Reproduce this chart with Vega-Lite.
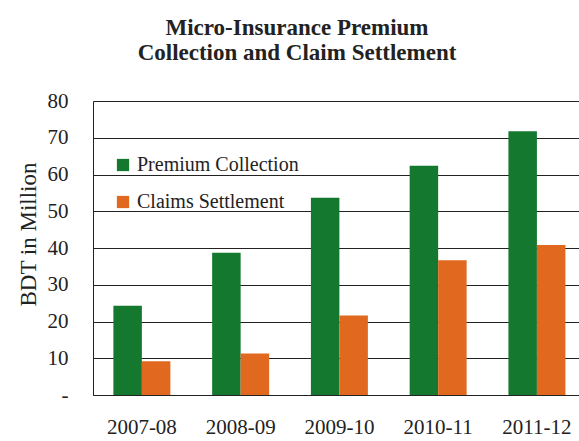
{
  "$schema": "https://vega.github.io/schema/vega-lite/v6.json",
  "width": 486,
  "height": 294,
  "autosize": {"type": "none"},
  "padding": {"left": 93, "top": 101, "right": 0, "bottom": 46},
  "background": "white",
  "title": {
    "text": ["Micro-Insurance Premium", "Collection and Claim Settlement"],
    "font": "Liberation Serif",
    "fontSize": 23,
    "fontWeight": "bold",
    "color": "#222222",
    "anchor": "middle",
    "dx": -39,
    "offset": 25,
    "lineHeight": 25
  },
  "data": {
    "values": [
      {"year": "2007-08", "series": "Premium Collection", "value": 24.3},
      {"year": "2007-08", "series": "Claims Settlement", "value": 9.2},
      {"year": "2008-09", "series": "Premium Collection", "value": 38.7},
      {"year": "2008-09", "series": "Claims Settlement", "value": 11.3},
      {"year": "2009-10", "series": "Premium Collection", "value": 53.7},
      {"year": "2009-10", "series": "Claims Settlement", "value": 21.6},
      {"year": "2010-11", "series": "Premium Collection", "value": 62.4},
      {"year": "2010-11", "series": "Claims Settlement", "value": 36.7},
      {"year": "2011-12", "series": "Premium Collection", "value": 71.8},
      {"year": "2011-12", "series": "Claims Settlement", "value": 40.8}
    ]
  },
  "mark": {"type": "bar"},
  "encoding": {
    "x": {
      "field": "year",
      "type": "nominal",
      "scale": {"paddingInner": 0.423, "paddingOuter": 0.172, "align": 0.6},
      "axis": {
        "title": null,
        "labelAngle": 0,
        "labelFont": "Liberation Serif",
        "labelFontSize": 21,
        "labelColor": "#222222",
        "labelPadding": 21,
        "ticks": false,
        "domainColor": "#222222",
        "domainWidth": 1
      }
    },
    "xOffset": {
      "field": "series",
      "type": "nominal",
      "sort": ["Premium Collection", "Claims Settlement"],
      "scale": {"paddingInner": 0, "paddingOuter": 0}
    },
    "y": {
      "field": "value",
      "type": "quantitative",
      "scale": {"domain": [0, 80], "nice": false},
      "axis": {
        "title": "BDT in Million",
        "titleFont": "Liberation Serif",
        "titleFontSize": 23,
        "titleFontWeight": "normal",
        "titleColor": "#222222",
        "titleX": -65,
        "titleY": 133,
        "titleAngle": -90,
        "titleAlign": "center",
        "titleBaseline": "middle",
        "values": [0, 10, 20, 30, 40, 50, 60, 70, 80],
        "labelExpr": "datum.value == 0 ? '-' : datum.label",
        "labelFont": "Liberation Serif",
        "labelFontSize": 21,
        "labelColor": "#222222",
        "labelPadding": 25,
        "ticks": false,
        "grid": true,
        "gridColor": "#222222",
        "gridWidth": 1,
        "domainColor": "#222222",
        "domainWidth": 1
      }
    },
    "color": {
      "field": "series",
      "type": "nominal",
      "sort": ["Premium Collection", "Claims Settlement"],
      "scale": {"domain": ["Premium Collection", "Claims Settlement"], "range": ["#15782f", "#e0691f"]},
      "legend": {
        "title": null,
        "orient": "none",
        "legendX": 20,
        "legendY": 54,
        "symbolType": "square",
        "symbolSize": 150,
        "symbolStrokeWidth": 0,
        "labelFont": "Liberation Serif",
        "labelFontSize": 20,
        "labelColor": "#222222",
        "labelOffset": 4,
        "labelLimit": 400,
        "rowPadding": 17
      }
    }
  },
  "config": {"view": {"stroke": null}}
}
